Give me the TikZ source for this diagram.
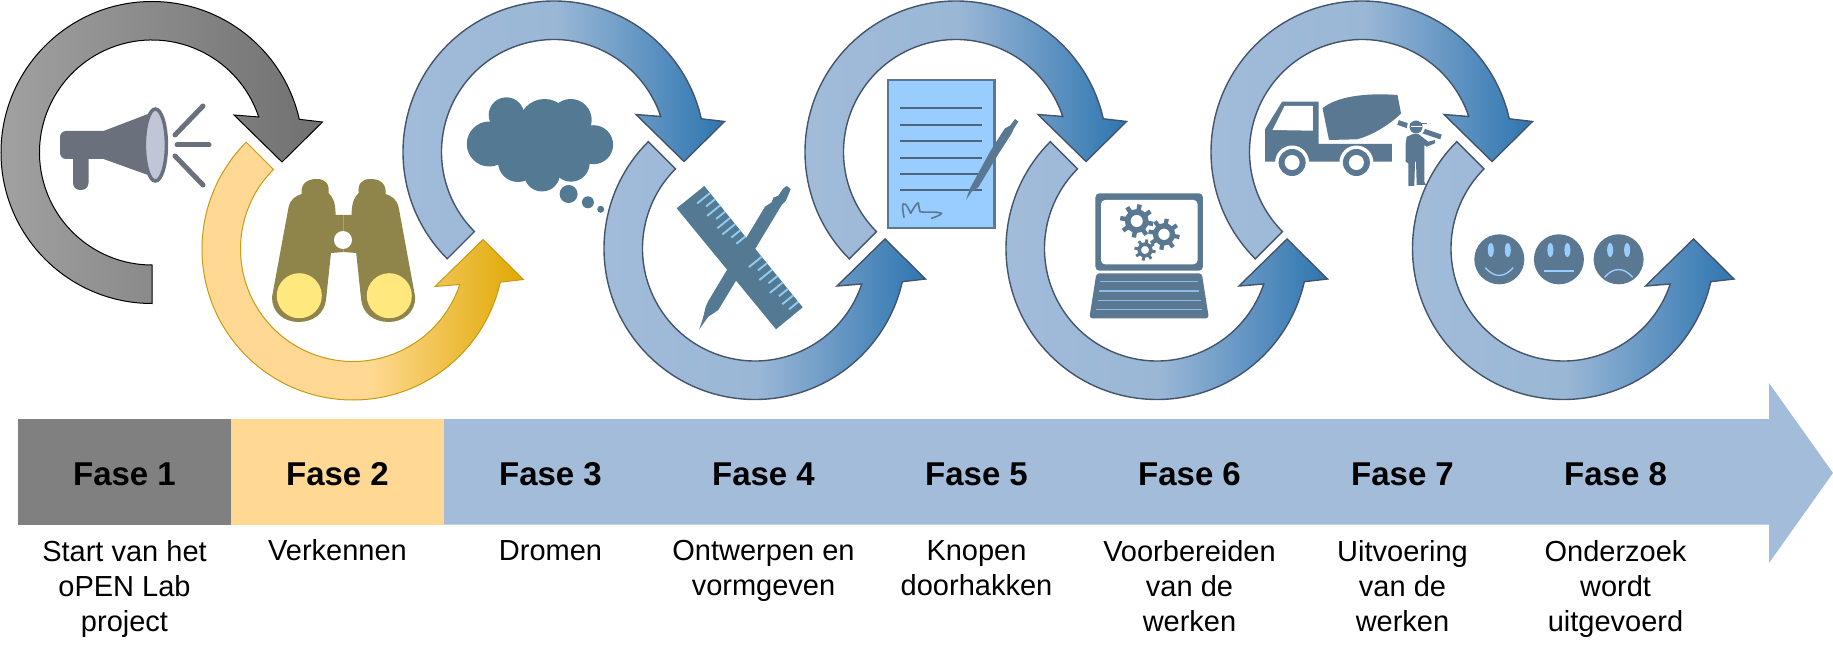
\documentclass[tikz,border=0pt]{standalone}
\usepackage{fontspec}
\setmainfont{Liberation Sans}
\definecolor{barblue}{HTML}{A2BCDA}
\definecolor{midblue}{HTML}{9AB7D6}
\definecolor{deepblue}{HTML}{2E75B0}
\definecolor{baryellow}{HTML}{FFD993}
\definecolor{deepgold}{HTML}{DFA800}
\definecolor{goldedge}{HTML}{C99A12}
\definecolor{bargray}{HTML}{808080}
\definecolor{slate}{HTML}{44546A}
\definecolor{hornblue}{HTML}{6A707C}
\definecolor{hornbell}{HTML}{BEC6D8}
\definecolor{olive}{HTML}{8F854B}
\definecolor{lens}{HTML}{FFE97F}
\definecolor{iconblue}{HTML}{537A92}
\definecolor{truckblue}{HTML}{5A7891}
\definecolor{skyblue}{HTML}{99CCFF}
\definecolor{tickblue}{HTML}{8FCBF5}
\pgfdeclarehorizontalshading{bluebend}{100bp}{color(0bp)=(barblue); color(25bp)=(barblue); color(50bp)=(midblue); color(75bp)=(deepblue); color(100bp)=(deepblue)}
\pgfdeclarehorizontalshading{goldbend}{100bp}{color(0bp)=(baryellow); color(25bp)=(baryellow); color(52bp)=(baryellow); color(75bp)=(deepgold); color(100bp)=(deepgold)}
\pgfdeclarehorizontalshading{graybend}{100bp}{color(0bp)=(black!37); color(25bp)=(black!37); color(75bp)=(black!56); color(100bp)=(black!56)}
\tikzset{
	blueflow/.style={shading=bluebend,draw=slate,line width=1.4pt},
	goldflow/.style={shading=goldbend,draw=goldedge,line width=1pt},
	grayflow/.style={shading=graybend,draw=black,line width=1pt},
	fasebox/.style={minimum width=213pt,minimum height=105.5pt,inner sep=0pt,text height=27pt,text depth=0pt,font=\fontsize{33}{38}\selectfont\bfseries},
	desc/.style={anchor=north,align=center,inner sep=0pt,font=\fontsize{29}{35}\selectfont}
}
\newcommand{\overturn}[4]{
	\begin{scope}[shift={(#1,#2)},y=1pt]
		\shadedraw[#4] (#3:151) arc[start angle=#3,end angle=12.7,radius=151] -- (170.5,30.5) -- (130,-9.5) -- (82,37.5) -- (18.4:112.5) arc[start angle=18.4,end angle=#3,radius=112.5] -- cycle;
	\end{scope}
}
\newcommand{\underturn}[3]{
	\begin{scope}[shift={(#1,#2)},y=1pt]
		\shadedraw[#3] (135:151) arc[start angle=135,end angle=347.3,radius=151] -- (170.5,-30.5) -- (130,9.5) -- (82,-37.5) -- (341.6:112.5) arc[start angle=341.6,end angle=135,radius=112.5] -- cycle;
	\end{scope}
}
\newcommand{\gearicon}[3]{
	\begin{scope}[shift={(#1,#2)}]
		\draw[truckblue,line width=#3*.34pt] (0,0) circle[radius=#3*.54];
		\foreach \a in {0,45,...,315}
			\draw[truckblue,line width=#3*.27pt] (\a+10:#3*.6) -- (\a+10:#3);
	\end{scope}
}
\begin{document}
\begin{tikzpicture}[x=1pt,y=-1pt]
	\useasboundingbox (0,0) rectangle (1833,660);

	\fill[hornblue] (103.5,131) -- (148,114) -- (148,175) -- (103.5,159) -- (88.5,159) [rounded corners=7pt] -- (88.5,190) -- (73,190) [sharp corners] -- (73,159) [rounded corners=6pt] -- (60,159) -- (60,131) [sharp corners] -- cycle;
	\draw[hornblue,fill=hornbell,line width=3.5pt] (155.4,145) ellipse (11 and 36);
	\draw[hornblue,line width=5pt,line cap=round] (175,135) -- (203,106);
	\draw[hornblue,line width=5pt,line cap=round] (177,145) -- (209,145);
	\draw[hornblue,line width=5pt,line cap=round] (175,156) -- (203,185);

	\foreach \s in {1,-1}
		\fill[olive,shift={(343.6,0)},xscale=\s] (-71.6,297) -- (-55,207) .. controls (-53,199) and (-48,196) .. (-42,194) .. controls (-43,184) and (-37,179) .. (-27,179) .. controls (-18,179) and (-14,184) .. (-15,193) .. controls (-11,197) and (-8,202) .. (-8,215) -- (0,215) -- (0,252) -- (-12.6,253) -- (-17.6,300) .. controls (-19,313) and (-30,322) .. (-45,322) .. controls (-60,322) and (-72,312) .. (-71.6,297) -- cycle;
	\fill[white] (343,240) circle[radius=9];
	\fill[lens] (299.3,295.7) circle[radius=22.5];
	\fill[lens] (389.3,295.7) circle[radius=22.5];

	\fill[iconblue] (489.3,144) circle[radius=22.5];
	\fill[iconblue] (506.4,115) circle[radius=17.7];
	\fill[iconblue] (544.6,125) circle[radius=26];
	\fill[iconblue] (570.7,120) circle[radius=21];
	\fill[iconblue] (593.6,144.7) circle[radius=19.5];
	\fill[iconblue] (571,163) circle[radius=18.7];
	\fill[iconblue] (542,173.5) circle[radius=18];
	\fill[iconblue] (518,162) circle[radius=20];
	\fill[iconblue] (505,125) rectangle (585,165);
	\fill[iconblue] (568.6,194) circle[radius=9];
	\fill[iconblue] (587.9,202.3) circle[radius=6];
	\fill[iconblue] (600.7,209.3) circle[radius=3.5];

	\fill[iconblue] (699.3,329.3) -- (703,318) -- (705.7,306.7) -- (708.3,301) -- (765,206.7) -- (771.7,202.3) -- (773.3,197.7) -- (778.3,195.7) -- (783.3,188.3) -- (786.7,186) -- (790.7,189) -- (788.3,195) -- (785.7,201) -- (781.7,205) -- (718.3,310) -- (708.3,316.7) -- cycle;
	\fill[iconblue] (704.3,186) -- (676.7,208.3) -- (776,329.3) -- (802.7,307.3) -- cycle;
	\foreach \t/\l in {9/16.5,17/11.5,25/16.5,33/11.5,41/16.5,49/16.5,57/11.5,65/11.5,91/16.5,99.3/11.5,107.6/16.5,115.9/11.5,124.2/16.5,132.5/11.5,140.8/14,149/12}
		\draw[tickblue,line width=1.9pt] ({704.3+.631*\t},{186+.777*\t}) -- ({704.3+.631*\t-.777*\l},{186+.777*\t+.631*\l});

	\draw[truckblue,fill=skyblue,line width=2.4pt] (887.9,80.3) rectangle (994.3,228.3);
	\foreach \y in {108.3,125,141.3,157.7,174,190.3}
		\draw[truckblue!85!black,line width=1.7pt] (900,\y) -- (982,\y);
	\draw[truckblue,line width=1.6pt,line join=round,line cap=round] (904,217.3) .. controls (903,212) and (902,207) .. (903,204) .. controls (906,202) and (909,210) .. (910.7,213.3) .. controls (913,209) and (916,204) .. (918.3,202.7) .. controls (919,206) and (919,209) .. (920,211.7) .. controls (928,213) and (936,211) .. (941.7,213.3) .. controls (939,216) and (935,217) .. (931.7,218.3);
	\fill[truckblue] (966,200) -- (970,188.3) -- (990,151.7) -- (1001.7,133.3) -- (1005,128.3) -- (1010,125.7) -- (1015,119) -- (1018.3,121.7) -- (1014,128.3) -- (1011.7,133.3) -- (996.7,156.7) -- (978.3,187.3) -- (971.7,191.7) -- cycle;

	\fill[truckblue,rounded corners=4pt] (1095.4,193.3) rectangle (1202.9,270.7);
	\fill[white,rounded corners=4pt] (1101,200) rectangle (1197.5,264.3);
	\gearicon{1136.7}{221}{16.7}
	\gearicon{1164}{234.3}{15.7}
	\gearicon{1145}{250}{10.7}
	\fill[truckblue,rounded corners=3pt] (1096.4,273.3) -- (1201.8,273.3) -- (1208.9,318.3) -- (1089.3,318.3) -- cycle;
	\draw[skyblue!80!truckblue,line width=1.2pt] (1100,281.7) -- (1198.2,281.7);
	\draw[skyblue!80!truckblue,line width=1.2pt] (1098.6,291) -- (1199.3,291);
	\draw[skyblue!80!truckblue,line width=1.2pt] (1097.5,300.3) -- (1200.7,300.3);
	\draw[skyblue!80!truckblue,line width=1.2pt] (1096.4,309.7) -- (1201.8,309.7);

	\fill[truckblue] (1322.5,108.3) .. controls (1332,100) and (1355,92) .. (1397.5,95) -- (1401,113.3) .. controls (1393,122) and (1374,135) .. (1357,139.3) -- (1329,140) -- cycle;
	\fill[truckblue] (1265,129.3) -- (1282.1,101.7) -- (1318.6,101.7) -- (1318.6,144) -- (1391.8,144) -- (1391.8,161.7) -- (1265,161.7) -- cycle;
	\fill[white] (1272.5,130) -- (1284.6,106) -- (1312.9,106) -- (1312.9,130.7) -- cycle;
	\foreach \x in {1292.1,1356.4} {
		\fill[white] (\x,162.5) circle[radius=17];
		\fill[truckblue] (\x,162.5) circle[radius=13.5];
		\fill[white] (\x,162.5) circle[radius=7.5];
	}
	\draw[truckblue,line width=5pt] (1398,122.5) -- (1441,137);
	\fill[white] (1416,127) circle[radius=9];
	\fill[truckblue] (1416,127) circle[radius=6.5];
	\draw[truckblue,line width=1.6pt] (1410,123.5) -- (1427,123.5);
	\draw[white,line width=.8pt] (1411,126) -- (1422,126);
	\fill[truckblue] (1405.7,143.3) -- (1406.7,136.7) -- (1413.3,134) -- (1418.3,134) -- (1428.3,141.7) -- (1435,140) -- (1435,143.3) -- (1426.7,146.7) -- (1424.3,145) -- (1424.3,181.7) -- (1426,185) -- (1416.7,185) -- (1416,161.7) -- (1415,161.7) -- (1414.3,186) -- (1408.3,186) -- (1408.3,163.3) -- (1405.7,161.7) -- cycle;

	\foreach \x in {1499.3,1558.9,1618.6} {
		\fill[truckblue] (\x,259.3) circle[radius=25];
		\fill[skyblue] (\x-8.5,250) ellipse (3 and 7);
		\fill[skyblue] (\x+8.5,250) ellipse (3 and 7);
	}
	\draw[skyblue,line width=1.4pt] (1485.3,267.6) .. controls (1494,278) and (1504,278) .. (1513.3,267.6);
	\draw[skyblue,line width=1.4pt] (1543.9,271) -- (1573.9,271);
	\draw[skyblue,line width=1.4pt] (1604.6,277.3) .. controls (1613,267) and (1624,267) .. (1632.6,277.3);

	\overturn{152}{152.5}{270}{grayflow}
	\underturn{353}{249}{goldflow}
	\overturn{554}{152}{225}{blueflow}
	\underturn{755}{248.5}{blueflow}
	\overturn{956}{152}{225}{blueflow}
	\underturn{1157}{248.5}{blueflow}
	\overturn{1362}{152}{225}{blueflow}
	\underturn{1563.5}{248.5}{blueflow}

	\fill[barblue] (444,419) -- (1769,419) -- (1769,383) -- (1833,473) -- (1769,563) -- (1769,524.5) -- (444,524.5) -- cycle;
	\node[fasebox,fill=bargray] (fase1) at (124.5,471.75) {Fase 1};
	\node[fasebox,fill=baryellow] (fase2) at (337.5,471.75) {Fase 2};
	\node[fasebox] (fase3) at (550.5,471.75) {Fase 3};
	\node[fasebox] (fase4) at (763.5,471.75) {Fase 4};
	\node[fasebox] (fase5) at (976.5,471.75) {Fase 5};
	\node[fasebox] (fase6) at (1189.5,471.75) {Fase 6};
	\node[fasebox] (fase7) at (1402.5,471.75) {Fase 7};
	\node[fasebox] (fase8) at (1615.5,471.75) {Fase 8};

	\node[desc] (start) at (124.5,540.5) {Start van het\\oPEN Lab\\project};
	\node[desc] (verkennen) at (337.5,539) {Verkennen};
	\node[desc] (dromen) at (550.5,540) {Dromen};
	\node[desc] (ontwerpen) at (763.5,540.5) {Ontwerpen en\\vormgeven};
	\node[desc] (knopen) at (976.5,540.5) {Knopen\\doorhakken};
	\node[desc] (voorbereiden) at (1189.5,540.5) {Voorbereiden\\van de\\werken};
	\node[desc] (uitvoering) at (1402.5,540.5) {Uitvoering\\van de\\werken};
	\node[desc] (onderzoek) at (1615.5,540.5) {Onderzoek\\wordt\\uitgevoerd};
\end{tikzpicture}
\end{document}
